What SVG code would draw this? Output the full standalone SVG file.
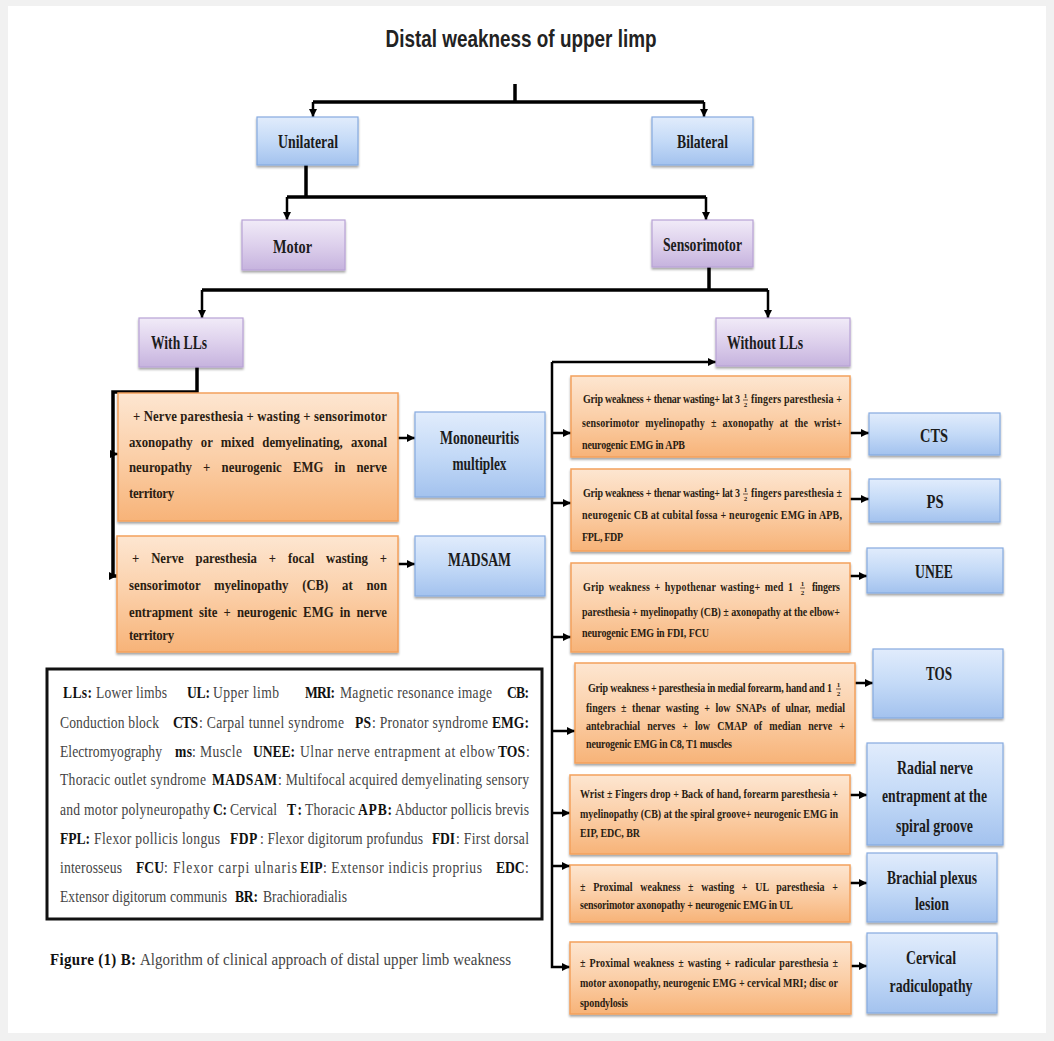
<svg xmlns="http://www.w3.org/2000/svg" width="1054" height="1041" viewBox="0 0 1054 1041">
<defs>
<linearGradient id="gBlue" x1="0" y1="0" x2="0" y2="1"><stop offset="0" stop-color="#e1ecfc"/><stop offset="0.5" stop-color="#c4daf7"/><stop offset="1" stop-color="#a3c2ee"/></linearGradient>
<linearGradient id="gPurple" x1="0" y1="0" x2="0" y2="1"><stop offset="0" stop-color="#f1ebf8"/><stop offset="0.5" stop-color="#ddd0ec"/><stop offset="1" stop-color="#c6b3de"/></linearGradient>
<linearGradient id="gOrange" x1="0" y1="0" x2="0" y2="1"><stop offset="0" stop-color="#fde6d1"/><stop offset="0.5" stop-color="#fbcfa8"/><stop offset="1" stop-color="#f7b378"/></linearGradient>
<filter id="sh" x="-5%" y="-10%" width="110%" height="130%"><feDropShadow dx="0" dy="2" stdDeviation="1.2" flood-color="#000" flood-opacity="0.35"/></filter>
<marker id="ah" viewBox="0 0 8 8" refX="8" refY="4" markerWidth="8" markerHeight="8" markerUnits="userSpaceOnUse" orient="auto"><path d="M0,0 L8,4 L0,8 z" fill="#000"/></marker>
</defs>
<style>
.blue{fill:url(#gBlue);stroke:#86abe0;stroke-width:1.2;filter:url(#sh)}
.purple{fill:url(#gPurple);stroke:#b8a2d6;stroke-width:1.2;filter:url(#sh)}
.orange{fill:url(#gOrange);stroke:#f3a15c;stroke-width:1.5;filter:url(#sh)}
.lbl{font-family:"Liberation Serif","DejaVu Serif",serif;font-weight:bold;font-size:19px;fill:#1c1c1c;text-anchor:middle}
.ot{font-family:"Liberation Serif","DejaVu Serif",serif;font-weight:bold;font-size:11.5px;fill:#2b1d12}
.lt{font-size:15px}
.fr{font-size:7px;text-anchor:middle}
.leg{font-family:"Liberation Serif","DejaVu Serif",serif;font-size:16px;fill:#444}
.b{font-weight:bold;fill:#111}
.thick{stroke-width:3.5}
.med{stroke-width:2.5}
</style>
<rect x="0" y="0" width="1054" height="1041" fill="#f1f1f1"/>
<rect x="8" y="6" width="1038" height="1027" fill="#ffffff"/>

<g id="title"><text x="521" y="47" text-anchor="middle" font-family="'Liberation Sans Narrow','Liberation Sans',sans-serif" font-weight="bold" font-size="24" fill="#222" textLength="271" lengthAdjust="spacingAndGlyphs">Distal weakness of upper limp</text></g>

<g id="connectors" fill="none" stroke="#000">
<path class="thick" d="M515 84 V102"/>
<path class="thick" d="M313 102 H704"/>
<path class="med" d="M313 102 V117" marker-end="url(#ah)"/>
<path class="med" d="M704 102 V117" marker-end="url(#ah)"/>
<path class="thick" d="M306 165 V197"/>
<path class="thick" d="M287 197 H706"/>
<path class="med" d="M287 197 V220" marker-end="url(#ah)"/>
<path class="med" d="M706 197 V220" marker-end="url(#ah)"/>
<path class="thick" d="M709 267 V290"/>
<path class="thick" d="M202 290 H768"/>
<path class="med" d="M202 290 V318" marker-end="url(#ah)"/>
<path class="med" d="M768 290 V318" marker-end="url(#ah)"/>
<path class="thick" d="M197 367 V392 H113 V576 H117" marker-end="url(#ah)"/>
<path class="med" d="M113 454 H118" marker-end="url(#ah)"/>
<path class="med" d="M398 438 H415" marker-end="url(#ah)"/>
<path class="med" d="M398 564 H415" marker-end="url(#ah)"/>
<path class="med" d="M552 362 H716" marker-end="url(#ah)"/>
<path class="med" d="M552 362 V967 H570" marker-end="url(#ah)"/>
<path class="med" d="M552 433 H571" marker-end="url(#ah)"/>
<path class="med" d="M552 503 H571" marker-end="url(#ah)"/>
<path class="med" d="M552 637 H571" marker-end="url(#ah)"/>
<path class="med" d="M552 731 H575" marker-end="url(#ah)"/>
<path class="med" d="M552 813 H570" marker-end="url(#ah)"/>
<path class="med" d="M552 866 H570" marker-end="url(#ah)"/>
<path class="med" d="M850 433 H869" marker-end="url(#ah)"/>
<path class="med" d="M850 499 H869" marker-end="url(#ah)"/>
<path class="med" d="M850 576 H867" marker-end="url(#ah)"/>
<path class="med" d="M855 683 H873" marker-end="url(#ah)"/>
<path class="med" d="M850 795 H867" marker-end="url(#ah)"/>
<path class="med" d="M850 883 H867" marker-end="url(#ah)"/>
<path class="med" d="M851 966 H867" marker-end="url(#ah)"/>
</g>

<g id="unilateral"><rect class="blue" x="257" y="117" width="101" height="48"/><text class="lbl" x="308" y="147.5" textLength="60" lengthAdjust="spacingAndGlyphs">Unilateral</text></g>
<g id="bilateral"><rect class="blue" x="652" y="117" width="101" height="48"/><text class="lbl" x="702.5" y="147.5" textLength="51" lengthAdjust="spacingAndGlyphs">Bilateral</text></g>
<g id="motor"><rect class="purple" x="242" y="220" width="103" height="50"/><text class="lbl" x="292.5" y="252.5" textLength="39" lengthAdjust="spacingAndGlyphs">Motor</text></g>
<g id="sensorimotor"><rect class="purple" x="652" y="220" width="101" height="47"/><text class="lbl" x="702.5" y="250.5" textLength="79" lengthAdjust="spacingAndGlyphs">Sensorimotor</text></g>
<g id="with-lls"><rect class="purple" x="139" y="318" width="104" height="49"/><text class="lbl" x="179" y="348.5" textLength="56" lengthAdjust="spacingAndGlyphs">With LLs</text></g>
<g id="without-lls"><rect class="purple" x="716" y="318" width="134" height="48"/><text class="lbl" x="765" y="348.5" textLength="76" lengthAdjust="spacingAndGlyphs">Without LLs</text></g>

<g id="mono-criteria"><rect class="orange" x="118" y="393" width="280" height="128"/>
<g transform="scale(0.85 1)">
<text class="ot lt" x="156.47" y="421" textLength="298.82">+ Nerve paresthesia + wasting + sensorimotor</text>
<text class="ot lt" x="151.76" y="447" word-spacing="5.9" textLength="303.53">axonopathy or mixed demyelinating, axonal</text>
<text class="ot lt" x="151.76" y="472" word-spacing="9.4" textLength="303.53">neuropathy + neurogenic EMG in nerve</text>
<text class="ot lt" x="151.76" y="498" textLength="52.94">territory</text>
</g></g>
<g id="mononeuritis"><rect class="blue" x="415" y="412" width="130" height="85"/><text class="lbl" x="479.5" y="443.5" textLength="79" lengthAdjust="spacingAndGlyphs">Mononeuritis</text><text class="lbl" x="479.5" y="469.5" textLength="54" lengthAdjust="spacingAndGlyphs">multiplex</text></g>

<g id="madsam-criteria"><rect class="orange" x="117" y="536" width="281" height="116"/>
<g transform="scale(0.85 1)">
<text class="ot lt" x="155.29" y="563" word-spacing="10.2" textLength="300">+ Nerve paresthesia + focal wasting +</text>
<text class="ot lt" x="151.76" y="590" word-spacing="12.4" textLength="303.53">sensorimotor myelinopathy (CB) at non</text>
<text class="ot lt" x="151.76" y="617" word-spacing="3.4" textLength="303.53">entrapment site + neurogenic EMG in nerve</text>
<text class="ot lt" x="151.76" y="640" textLength="52.94">territory</text>
</g></g>
<g id="madsam"><rect class="blue" x="415" y="536" width="130" height="60"/><text class="lbl" x="479.5" y="565.5" textLength="63" lengthAdjust="spacingAndGlyphs">MADSAM</text></g>

<g id="cts-criteria"><rect class="orange" x="571" y="376" width="279" height="81"/>
<g transform="scale(0.87 1)">
<text class="ot" x="670.11" y="403" textLength="180.46">Grip weakness + thenar wasting+ lat 3</text>
<text class="ot" x="863.22" y="403" textLength="104.6">fingers paresthesia +</text>
<text class="ot" x="668.97" y="427" word-spacing="4" textLength="298.85">sensorimotor myelinopathy ± axonopathy at the wrist+</text>
<text class="ot" x="668.97" y="449" textLength="118.39">neurogenic EMG in APB</text>
</g>
<text class="ot fr" x="745.5" y="398">1</text><line x1="743" y1="400" x2="748" y2="400" stroke="#2b1d12" stroke-width="0.7"/><text class="ot fr" x="745.5" y="407">2</text>
</g>
<g id="cts"><rect class="blue" x="869" y="413" width="131" height="42"/><text class="lbl" x="934" y="442" font-size="20" textLength="28" lengthAdjust="spacingAndGlyphs">CTS</text></g>

<g id="ps-criteria"><rect class="orange" x="571" y="469" width="279" height="82"/>
<g transform="scale(0.87 1)">
<text class="ot" x="670.11" y="497" textLength="180.46">Grip weakness + thenar wasting+ lat 3</text>
<text class="ot" x="863.22" y="497" textLength="104.6">fingers paresthesia ±</text>
<text class="ot" x="668.97" y="519" textLength="298.85">neurogenic CB at cubital fossa + neurogenic  EMG in APB,</text>
<text class="ot" x="668.97" y="541" textLength="47.13">FPL, FDP</text>
</g>
<text class="ot fr" x="745.5" y="492">1</text><line x1="743" y1="494" x2="748" y2="494" stroke="#2b1d12" stroke-width="0.7"/><text class="ot fr" x="745.5" y="501">2</text>
</g>
<g id="ps"><rect class="blue" x="869" y="479" width="131" height="43"/><text class="lbl" x="935" y="508" font-size="20" textLength="17" lengthAdjust="spacingAndGlyphs">PS</text></g>

<g id="unee-criteria"><rect class="orange" x="571" y="563" width="279" height="89"/>
<g transform="scale(0.87 1)">
<text class="ot" x="670.11" y="591" word-spacing="2" textLength="241.38">Grip weakness + hypothenar wasting+ med 1</text>
<text class="ot" x="933.33" y="591" textLength="32.18">fingers</text>
<text class="ot" x="668.97" y="616" textLength="296.55">paresthesia + myelinopathy (CB) ± axonopathy at the elbow+</text>
<text class="ot" x="668.97" y="637" textLength="146">neurogenic EMG in FDI, FCU</text>
</g>
<text class="ot fr" x="802.5" y="586">1</text><line x1="800" y1="588" x2="805" y2="588" stroke="#2b1d12" stroke-width="0.7"/><text class="ot fr" x="802.5" y="595">2</text>
</g>
<g id="unee"><rect class="blue" x="867" y="548" width="136" height="45"/><text class="lbl" x="934" y="578" font-size="20" textLength="38" lengthAdjust="spacingAndGlyphs">UNEE</text></g>

<g id="tos-criteria"><rect class="orange" x="575" y="663" width="280" height="100"/>
<g transform="scale(0.87 1)">
<text class="ot" x="675.86" y="692" textLength="280.46">Grip weakness + paresthesia in medial forearm, hand and 1</text>
<text class="ot" x="673.56" y="712" word-spacing="3.4" textLength="297.7">fingers ± thenar wasting + low SNAPs of ulnar, medial</text>
<text class="ot" x="673.56" y="730" word-spacing="5.3" textLength="297.7">antebrachial nerves + low CMAP of median nerve +</text>
<text class="ot" x="673.56" y="748" textLength="167.82">neurogenic EMG in C8, T1 muscles</text>
</g>
<text class="ot fr" x="838.5" y="687">1</text><line x1="836" y1="689" x2="841" y2="689" stroke="#2b1d12" stroke-width="0.7"/><text class="ot fr" x="838.5" y="696">2</text>
</g>
<g id="tos"><rect class="blue" x="873" y="649" width="130" height="69"/><text class="lbl" x="939" y="680" font-size="20" textLength="26" lengthAdjust="spacingAndGlyphs">TOS</text></g>

<g id="radial-criteria"><rect class="orange" x="570" y="775" width="280" height="79"/>
<g transform="scale(0.87 1)">
<text class="ot" x="666.67" y="798" textLength="296.55">Wrist ± Fingers drop + Back of hand, forearm paresthesia +</text>
<text class="ot" x="666.67" y="818" textLength="296.55">myelinopathy (CB) at the spiral groove+ neurogenic EMG in</text>
<text class="ot" x="666.67" y="837" textLength="68.97">EIP, EDC, BR</text>
</g></g>
<g id="radial"><rect class="blue" x="867" y="743" width="136" height="102"/>
<text class="lbl" x="935" y="773.5" textLength="76" lengthAdjust="spacingAndGlyphs">Radial nerve</text>
<text class="lbl" x="934.5" y="801.5" textLength="105" lengthAdjust="spacingAndGlyphs">entrapment at the</text>
<text class="lbl" x="934.5" y="831.5" textLength="77" lengthAdjust="spacingAndGlyphs">spiral groove</text></g>

<g id="brachial-criteria"><rect class="orange" x="570" y="865" width="280" height="57"/>
<g transform="scale(0.87 1)">
<text class="ot" x="666.67" y="891" word-spacing="5.9" textLength="296.55">± Proximal weakness ± wasting + UL paresthesia +</text>
<text class="ot" x="666.67" y="909" textLength="244.83">sensorimotor axonopathy + neurogenic EMG in UL</text>
</g></g>
<g id="brachial"><rect class="blue" x="867" y="853" width="130" height="69"/>
<text class="lbl" x="932" y="883.5" textLength="90" lengthAdjust="spacingAndGlyphs">Brachial plexus</text>
<text class="lbl" x="932" y="909.5" textLength="34" lengthAdjust="spacingAndGlyphs">lesion</text></g>

<g id="cervical-criteria"><rect class="orange" x="570" y="942" width="281" height="72"/>
<g transform="scale(0.87 1)">
<text class="ot" x="666.67" y="967" word-spacing="1.5" textLength="296.55">± Proximal weakness ± wasting + radicular paresthesia ±</text>
<text class="ot" x="666.67" y="987" textLength="296.55">motor axonopathy, neurogenic EMG + cervical MRI; disc or</text>
<text class="ot" x="666.67" y="1007" textLength="55.17">spondylosis</text>
</g></g>
<g id="cervical"><rect class="blue" x="867" y="933" width="130" height="80"/>
<text class="lbl" x="931" y="963.5" textLength="50" lengthAdjust="spacingAndGlyphs">Cervical</text>
<text class="lbl" x="931" y="991.5" textLength="83" lengthAdjust="spacingAndGlyphs">radiculopathy</text></g>

<g id="legend">
<rect x="47" y="669" width="495" height="250" fill="#fff" stroke="#111" stroke-width="3"/>
<g class="leg" transform="scale(0.85 1)">
<text class="b" x="74.12" y="698" textLength="34.12">LLs:</text>
<text x="112.94" y="698" textLength="83.53">Lower limbs</text>
<text class="b" x="220" y="698" textLength="27.06">UL:</text>
<text x="250.59" y="698" textLength="77.65">Upper limb</text>
<text class="b" x="358.82" y="698" textLength="35.29">MRI:</text>
<text x="400" y="698" textLength="178.82">Magnetic resonance image</text>
<text class="b" x="596.47" y="698" textLength="25.88">CB:</text>

<text x="70.59" y="728" textLength="116.47">Conduction block</text>
<text class="b" x="203.53" y="728" textLength="29.41">CTS</text>
<text x="234.12" y="728" textLength="170.59">: Carpal tunnel syndrome</text>
<text class="b" x="417.65" y="728" textLength="18.82">PS</text>
<text x="437.65" y="728" textLength="136.47">: Pronator syndrome</text>
<text class="b" x="578.82" y="728" textLength="43.53">EMG:</text>

<text x="70.59" y="757" textLength="120">Electromyography</text>
<text class="b" x="205.88" y="757" textLength="20">ms</text>
<text x="225.88" y="757" textLength="58.82">: Muscle</text>
<text class="b" x="297.65" y="757" textLength="49.41">UNEE:</text>
<text x="352.94" y="757" textLength="229.41">Ulnar nerve entrapment at elbow</text>
<text class="b" x="585.88" y="757" textLength="31.76">TOS</text>
<text x="618.82" y="757">:</text>

<text x="70.59" y="785" textLength="171.76">Thoracic outlet syndrome</text>
<text class="b" x="249.41" y="785" textLength="76.47">MADSAM</text>
<text x="327.06" y="785" textLength="295.29">: Multifocal acquired demyelinating sensory</text>

<text x="70.59" y="815" textLength="176.47">and motor polyneuropathy</text>
<text class="b" x="250.59" y="815" textLength="16.47">C:</text>
<text x="270.59" y="815" textLength="55.29">Cervical</text>
<text class="b" x="337.65" y="815" textLength="17.65">T:</text>
<text x="358.82" y="815" textLength="58.82">Thoracic</text>
<text class="b" x="421.18" y="815" textLength="40">APB:</text>
<text x="464.71" y="815" textLength="157.65">Abductor pollicis brevis</text>

<text class="b" x="70.59" y="844" textLength="35.29">FPL:</text>
<text x="110.59" y="844" textLength="148.24">Flexor pollicis longus</text>
<text class="b" x="270.59" y="844" textLength="32">FDP</text>
<text x="305.88" y="844" textLength="191.76">: Flexor digitorum profundus</text>
<text class="b" x="508.24" y="844" textLength="27.06">FDI</text>
<text x="536.47" y="844" textLength="85.88">: First dorsal</text>

<text x="70.59" y="873" textLength="72.94">interosseus</text>
<text class="b" x="160" y="873" textLength="32.94">FCU</text>
<text x="192.94" y="873" textLength="156.47">: Flexor carpi ulnaris</text>
<text class="b" x="352.94" y="873" textLength="26.47">EIP</text>
<text x="380" y="873" textLength="187.06">: Extensor indicis proprius</text>
<text class="b" x="583.53" y="873" textLength="33.53">EDC</text>
<text x="617.65" y="873">:</text>

<text x="70.59" y="902" textLength="196.47">Extensor digitorum communis</text>
<text class="b" x="276.47" y="902" textLength="27.06">BR:</text>
<text x="309.41" y="902" textLength="98.82">Brachioradialis</text>
</g>
</g>

<g id="caption" class="leg" transform="scale(0.88 1)">
<text class="b" x="56.82" y="965" font-size="17" textLength="97.73">Figure (1) B:</text>
<text x="159.09" y="965" font-size="17" textLength="421.59">Algorithm of clinical approach of distal upper limb weakness</text>
</g>
</svg>
